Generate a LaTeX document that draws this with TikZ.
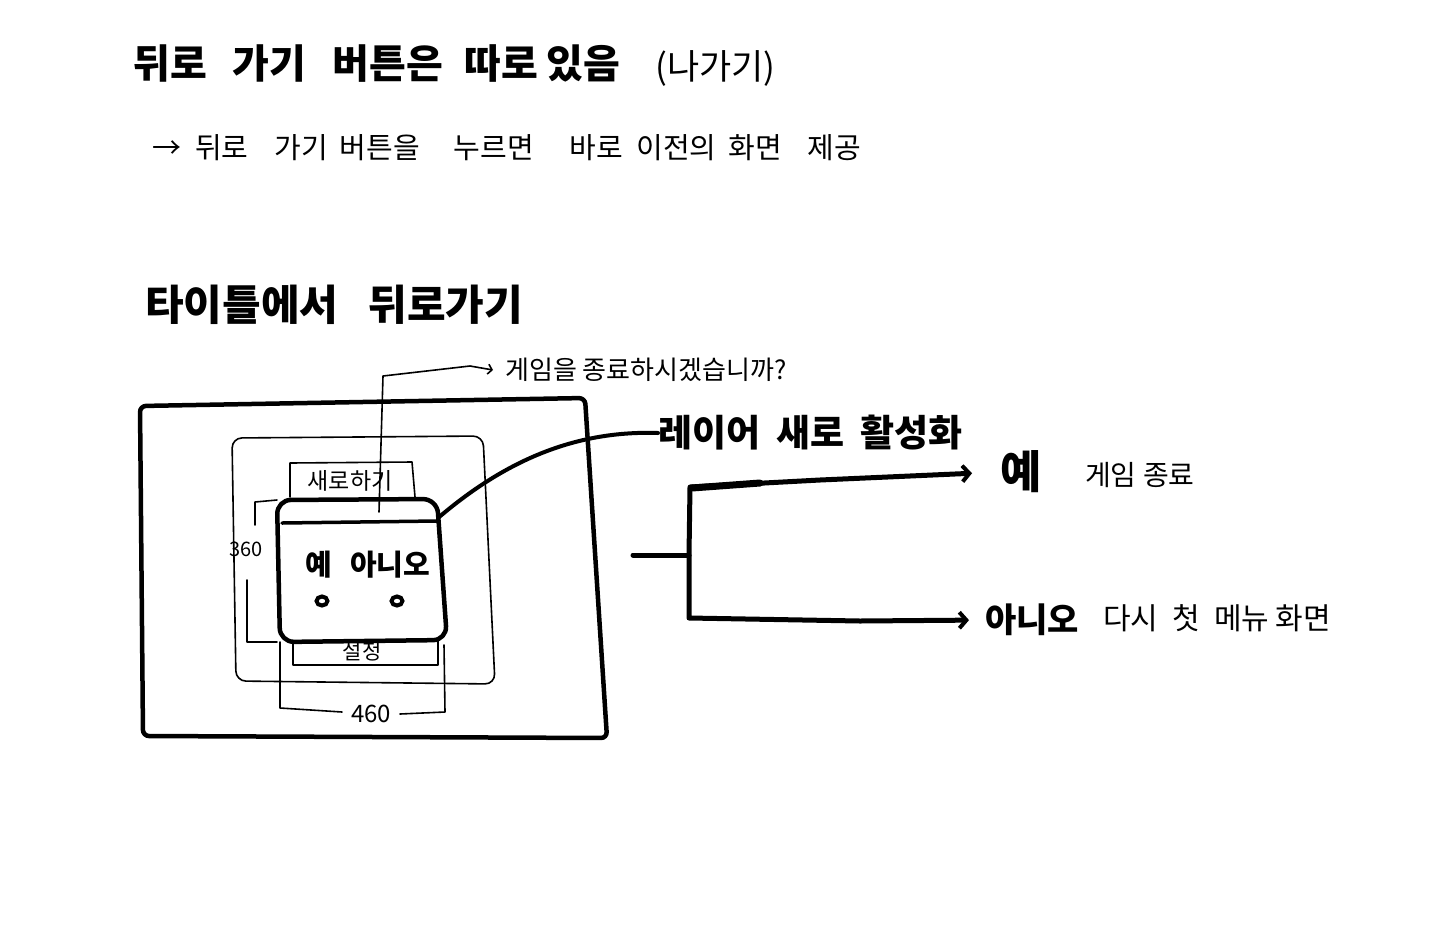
\documentclass[tikz,border=0pt]{standalone}
\usepackage{fontspec}
\newfontfamily\kr{Noto Sans CJK KR}
\usetikzlibrary{arrows.meta}
\newcommand{\fs}[1]{\fontsize{#1}{#1}\selectfont}
\newcommand{\gap}[1]{\hspace{#1pt}}
\tikzset{
	thin hand/.style={line width=1.6pt, line cap=round, line join=round},
	thick hand/.style={line width=4.5pt, line cap=round, line join=round},
	kor/.style={font=\kr, inner sep=0pt, anchor=west},
	barb/.style={-{Straight Barb[length=7pt,width=16pt,line width=4pt]}},
}

\begin{document}
\begin{tikzpicture}[x=1pt,y=-1pt]
	\useasboundingbox (0,0) rectangle (1440,927);

	\node[kor] (title) at (133,64) {\fs{40}\bfseries 뒤로\gap{26}가기\gap{26}버튼은\gap{22}따로\gap{8}있음};
	\node[kor] (exit) at (655,68) {\fs{35}(나가기)};
	\node[kor] (note) at (152,148) {\fs{29}→\gap{14}뒤로\gap{26}가기\gap{12}버튼을\gap{34}누르면\gap{36}바로\gap{13}이전의\gap{12}화면\gap{26}제공};

	\node[kor] (subtitle) at (145,305) {\fs{42}\bfseries 타이틀에서\gap{30}뒤로가기};

	\draw[thick hand, rounded corners=6pt] (140,406) -- (585,398) -- (607,738) -- (143,736) -- cycle;
	\draw[thin hand, rounded corners=10pt] (232,438) -- (483,436) -- (495,684) -- (236,681) -- cycle;
	\draw[thin hand] (290,497) -- (290,463) -- (412,462) -- (415,497);
	\node[font=\kr\fs{23}, inner sep=0pt] (newgame) at (350,481) {새로하기};
	\draw[thin hand] (293,640) -- (293,665) -- (438,665) -- (438,640);
	\node[font=\kr\fs{21}, inner sep=0pt] (settings) at (362,652) {설정};

	\draw[thick hand, fill=white, rounded corners=14pt] (277,500) -- (437,499) -- (447,640) -- (280,642) -- cycle;
	\draw[line width=3.5pt, line cap=round] (282,523) -- (437,521);
	\node[font=\kr\fs{29}\bfseries, inner sep=0pt] (choice) at (368,565) {예\gap{18}아니오};
	\foreach \x in {322,397} {
		\draw[line width=4pt] (\x,601) ellipse [x radius=5.5pt, y radius=4.5pt];
	}

	\draw[thin hand] (277,500) -- (255,502) -- (255,525);
	\node[font=\kr\fs{20}, inner sep=0pt] (height) at (246,549) {360};
	\draw[thin hand] (247,580) -- (247,642) -- (277,642);
	\draw[thin hand] (280,642) -- (280,708) -- (342,712);
	\node[font=\kr\fs{24}, inner sep=0pt] (width) at (371,714) {460};
	\draw[thin hand] (400,714) -- (445,712) -- (444,645);

	\node[kor] (quit) at (505,370) {\fs{26}게임을 종료하시겠습니까?};
	\coordinate (hook) at (379,512);
	\draw[thin hand, -{Straight Barb[length=4pt,width=10pt]}] (hook) -- (383,376) -- (470,366) -- ([xshift=-12pt]quit.west);

	\node[kor] (layer) at (658,433) {\fs{37}\bfseries 레이어\gap{16}새로\gap{16}활성화};
	\draw[line width=4pt, line cap=round] (438,518) .. controls (500,465) and (570,430) .. (layer.west);

	\node[kor] (yes) at (1000,472) {\fs{45}\bfseries 예};
	\node[kor] (yesnote) at (1085,475) {\fs{28}게임 종료};
	\node[kor] (no) at (985,620) {\fs{34}\bfseries 아니오};
	\node[kor] (nonote) at (1103,618) {\fs{30}다시\gap{14}첫\gap{14}메뉴 화면};

	\coordinate (stem) at (633,555);
	\coordinate (fork) at (689,555);
	\draw[line width=5pt, line cap=round] (stem) -- (fork);
	\draw[line width=7pt, line cap=round] (692,488) -- (760,483);
	\draw[line width=5pt, line join=round, barb, shorten >=28pt] (fork) -- (690,487) -- (820,480) -- (yes.west);
	\draw[line width=5pt, line join=round, barb, shorten >=16pt] (fork) -- (689,618) -- (860,621) -- (no.west);
\end{tikzpicture}
\end{document}
